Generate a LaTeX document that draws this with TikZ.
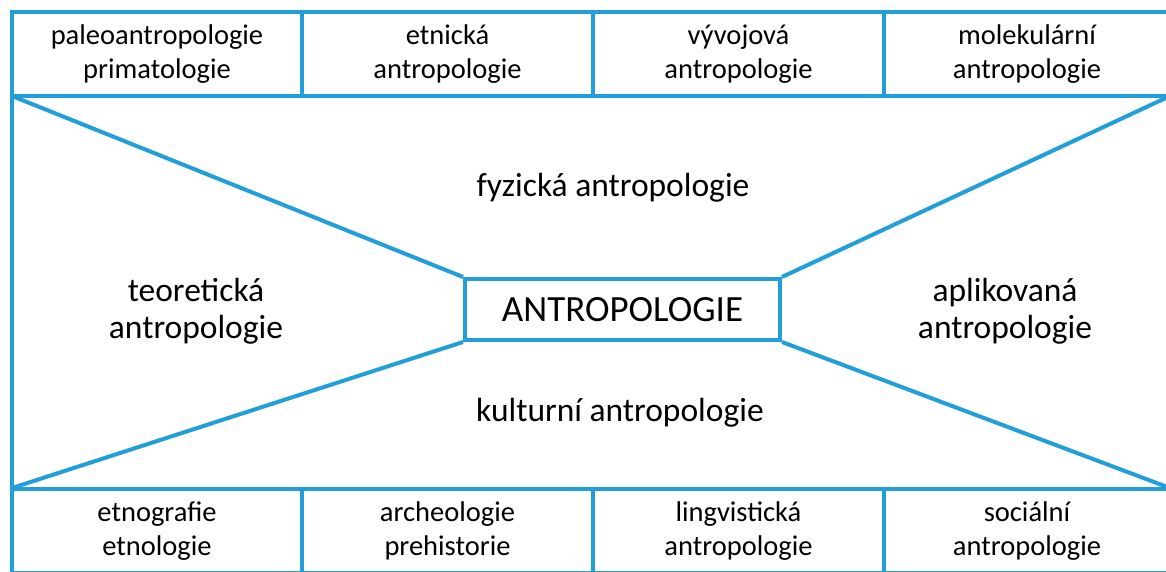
\documentclass[tikz,border=0pt]{standalone}
\usepackage{fontspec}
\setmainfont{Carlito}
\definecolor{lineblue}{RGB}{34,158,216}
\begin{document}
\begin{tikzpicture}[x=1pt,y=1pt,
  cell/.style={draw=lineblue,line width=4pt,minimum width=#1,minimum height=84pt,inner sep=0pt,align=center,font=\fontsize{28.5}{34.5}\selectfont},
  area/.style={align=center,font=\fontsize{33.5}{37.5}\selectfont},
  link/.style={draw=lineblue,line width=4pt}]
\useasboundingbox (0,0) rectangle (1166,571);
\fill[white] (0,0) rectangle (1166,571);
% outer frame
\coordinate (tl) at (12,475);
\coordinate (tr) at (1170,475);
\coordinate (bl) at (12,83);
\coordinate (br) at (1170,83);
\draw[link] (tl) -- (bl);
\draw[link] (tr) -- (br);
% top row
\node[cell=290pt] (t1) at (157,517) {paleoantropologie\\primatologie};
\node[cell=291pt] (t2) at (447.5,517) {etnická\\antropologie};
\node[cell=291pt] (t3) at (738.5,517) {vývojová\\antropologie};
\node[cell=286pt] (t4) at (1027,517) {molekulární\\antropologie};
% bottom row
\node[cell=290pt] (b1) at (157,40) {etnografie\\etnologie};
\node[cell=291pt] (b2) at (447.5,40) {archeologie\\prehistorie};
\node[cell=291pt] (b3) at (738.5,40) {lingvistická\\antropologie};
\node[cell=286pt] (b4) at (1027,40) {sociální\\antropologie};
% centre
\node[draw=lineblue,line width=4pt,minimum width=315pt,minimum height=61pt,inner sep=0pt,font=\fontsize{37}{40}\selectfont] (c) at (622.5,261.5) {ANTROPOLOGIE};
\draw[link] (tl) -- (c.north west);
\draw[link] (tr) -- (c.north east);
\draw[link] (bl) -- (c.south west);
\draw[link] (br) -- (c.south east);
% area labels
\node[area] (fyz) at (613,383) {fyzická antropologie};
\node[area] (kul) at (620,158) {kulturní antropologie};
\node[area] (teo) at (196,260) {teoretická\\antropologie};
\node[area] (apl) at (1005,260) {aplikovaná\\antropologie};
\end{tikzpicture}
\end{document}
